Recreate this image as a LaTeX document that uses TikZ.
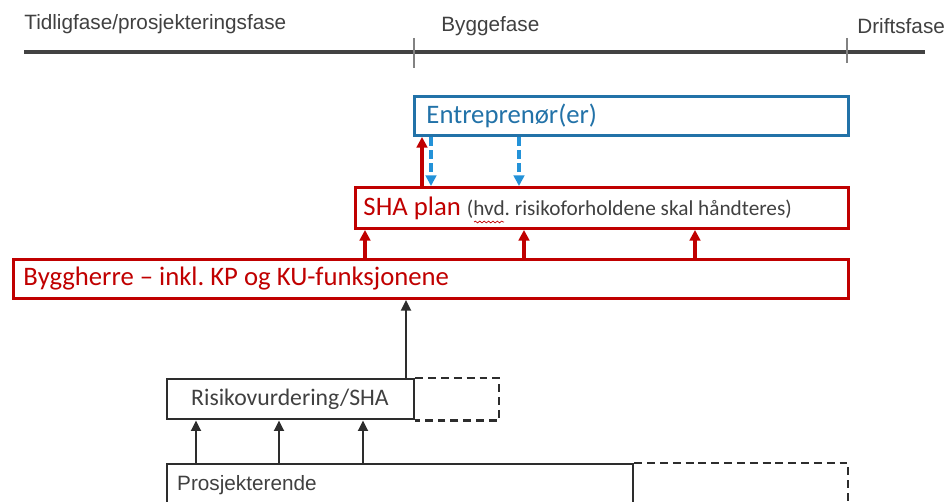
\documentclass[tikz,border=0pt]{standalone}
\usepackage{fontspec}
\setmainfont{Carlito}
\newfontfamily\arialfont{Liberation Sans}
\usepackage{tikz}
\usetikzlibrary{positioning,arrows.meta,decorations.pathmorphing}

\definecolor{shared}{RGB}{192,0,0}
\definecolor{entblue}{RGB}{34,114,168}
\definecolor{dashblue}{RGB}{35,146,216}
\definecolor{darkline}{RGB}{45,45,45}
\definecolor{txtgray}{RGB}{64,64,64}
\definecolor{tickgray}{RGB}{130,130,130}

\tikzset{
  redbox/.style={draw=shared,line width=1.7pt,anchor=north west,inner ysep=0pt,align=flush left,text=shared,font=\fontsize{15.2}{18}\selectfont},
  bluebox/.style={draw=entblue,line width=1.7pt,anchor=north west,inner ysep=0pt,align=flush left,text=entblue,font=\fontsize{15.2}{18}\selectfont},
  greybox/.style={draw=darkline,line width=1.4pt,anchor=north west,inner ysep=0pt,align=flush left,text=txtgray},
  phase/.style={anchor=west,inner sep=0pt,text=txtgray,font=\arialfont\fontsize{11.8}{14}\selectfont},
  redarrow/.style={draw=shared,line width=1.8pt,-{Triangle[length=6pt,width=6pt]}},
  bluearrow/.style={draw=dashblue,line width=1.8pt,dash pattern=on 5pt off 2.5pt,-{Triangle[length=6pt,width=6pt]}},
  greyarrow/.style={draw=darkline,line width=1.5pt,-{Triangle[length=6pt,width=5.5pt]}},
  extbox/.style={draw=darkline,line width=1.4pt,dash pattern=on 4.5pt off 2.8pt}
}

\begin{document}
\frenchspacing
\begin{tikzpicture}[x=0.02cm,y=-0.02cm]
\clip (0,0) rectangle (948,502);
% Phase line
\draw[darkline!90,line width=2pt] (24,52) -- (925,52);
\draw[tickgray,line width=0.9pt] (414,38) -- (414,68);
\draw[tickgray,line width=0.9pt] (847,38) -- (847,63);
\node[phase] (tidlig) at (24,24) {Tidligfase/prosjekteringsfase};
\node[phase] (bygge)  at (441,26) {Byggefase};
\node[phase] (drift)  at (857,26) {Driftsfase};
% Boxes
\node[bluebox,text width=8.2cm,inner xsep=0.24cm,minimum height=0.78cm] (ent) at (413,95) {Entrepren\o r(er)};
\node[redbox,text width=9.54cm,inner xsep=0.16cm,minimum height=0.82cm] (sha) at (354,186)
  {SHA plan {\color{txtgray}\fontsize{12.1}{14}\selectfont(hvd. risikoforholdene skal h\aa ndteres)}};
\node[redbox,text width=16.3cm,inner xsep=0.2cm,minimum height=0.78cm] (byg) at (12,258)
  {Byggherre -- inkl. KP og KU-funksjonene};
\node[greybox,text width=3.98cm,inner xsep=0.48cm,minimum height=0.8cm,font=\fontsize{13.5}{16}\selectfont] (risk) at (166,378)
  {Risikovurdering/SHA};
\node[greybox,text width=8.92cm,inner xsep=0.2cm,minimum height=0.84cm,font=\arialfont\fontsize{11.8}{14}\selectfont] (pros) at (166,463)
  {Prosjekterende};
% Dashed extensions
\draw[extbox] (risk.north east) -- (499,0 |- risk.north) -- (499,0 |- risk.south) -- (risk.south east);
\draw[extbox] (pros.north east) -- (848,0 |- pros.north) -- (848,0 |- pros.south);
% spell-check mark
\draw[shared,line width=0.4pt,decorate,decoration={snake,amplitude=0.5pt,segment length=2.5pt}] (474,222) -- (504,222);
% Arrows between Entreprenor and SHA plan
\draw[redarrow]  (sha.north -| 422,0) -- (ent.south -| 422,0);
\draw[bluearrow] (ent.south -| 431,0) -- (sha.north -| 431,0);
\draw[bluearrow] (ent.south -| 519,0) -- (sha.north -| 519,0);
% Arrows from Byggherre to SHA plan
\foreach \x in {365,524,695}{
  \draw[redarrow] (byg.north -| \x,0) -- (sha.south -| \x,0);
}
% Risikovurdering to Byggherre
\draw[greyarrow] (risk.north -| 406,0) -- (byg.south -| 406,0);
% Prosjekterende to Risikovurdering
\foreach \x in {196,279,363}{
  \draw[greyarrow] (pros.north -| \x,0) -- (risk.south -| \x,0);
}
\end{tikzpicture}
\end{document}
